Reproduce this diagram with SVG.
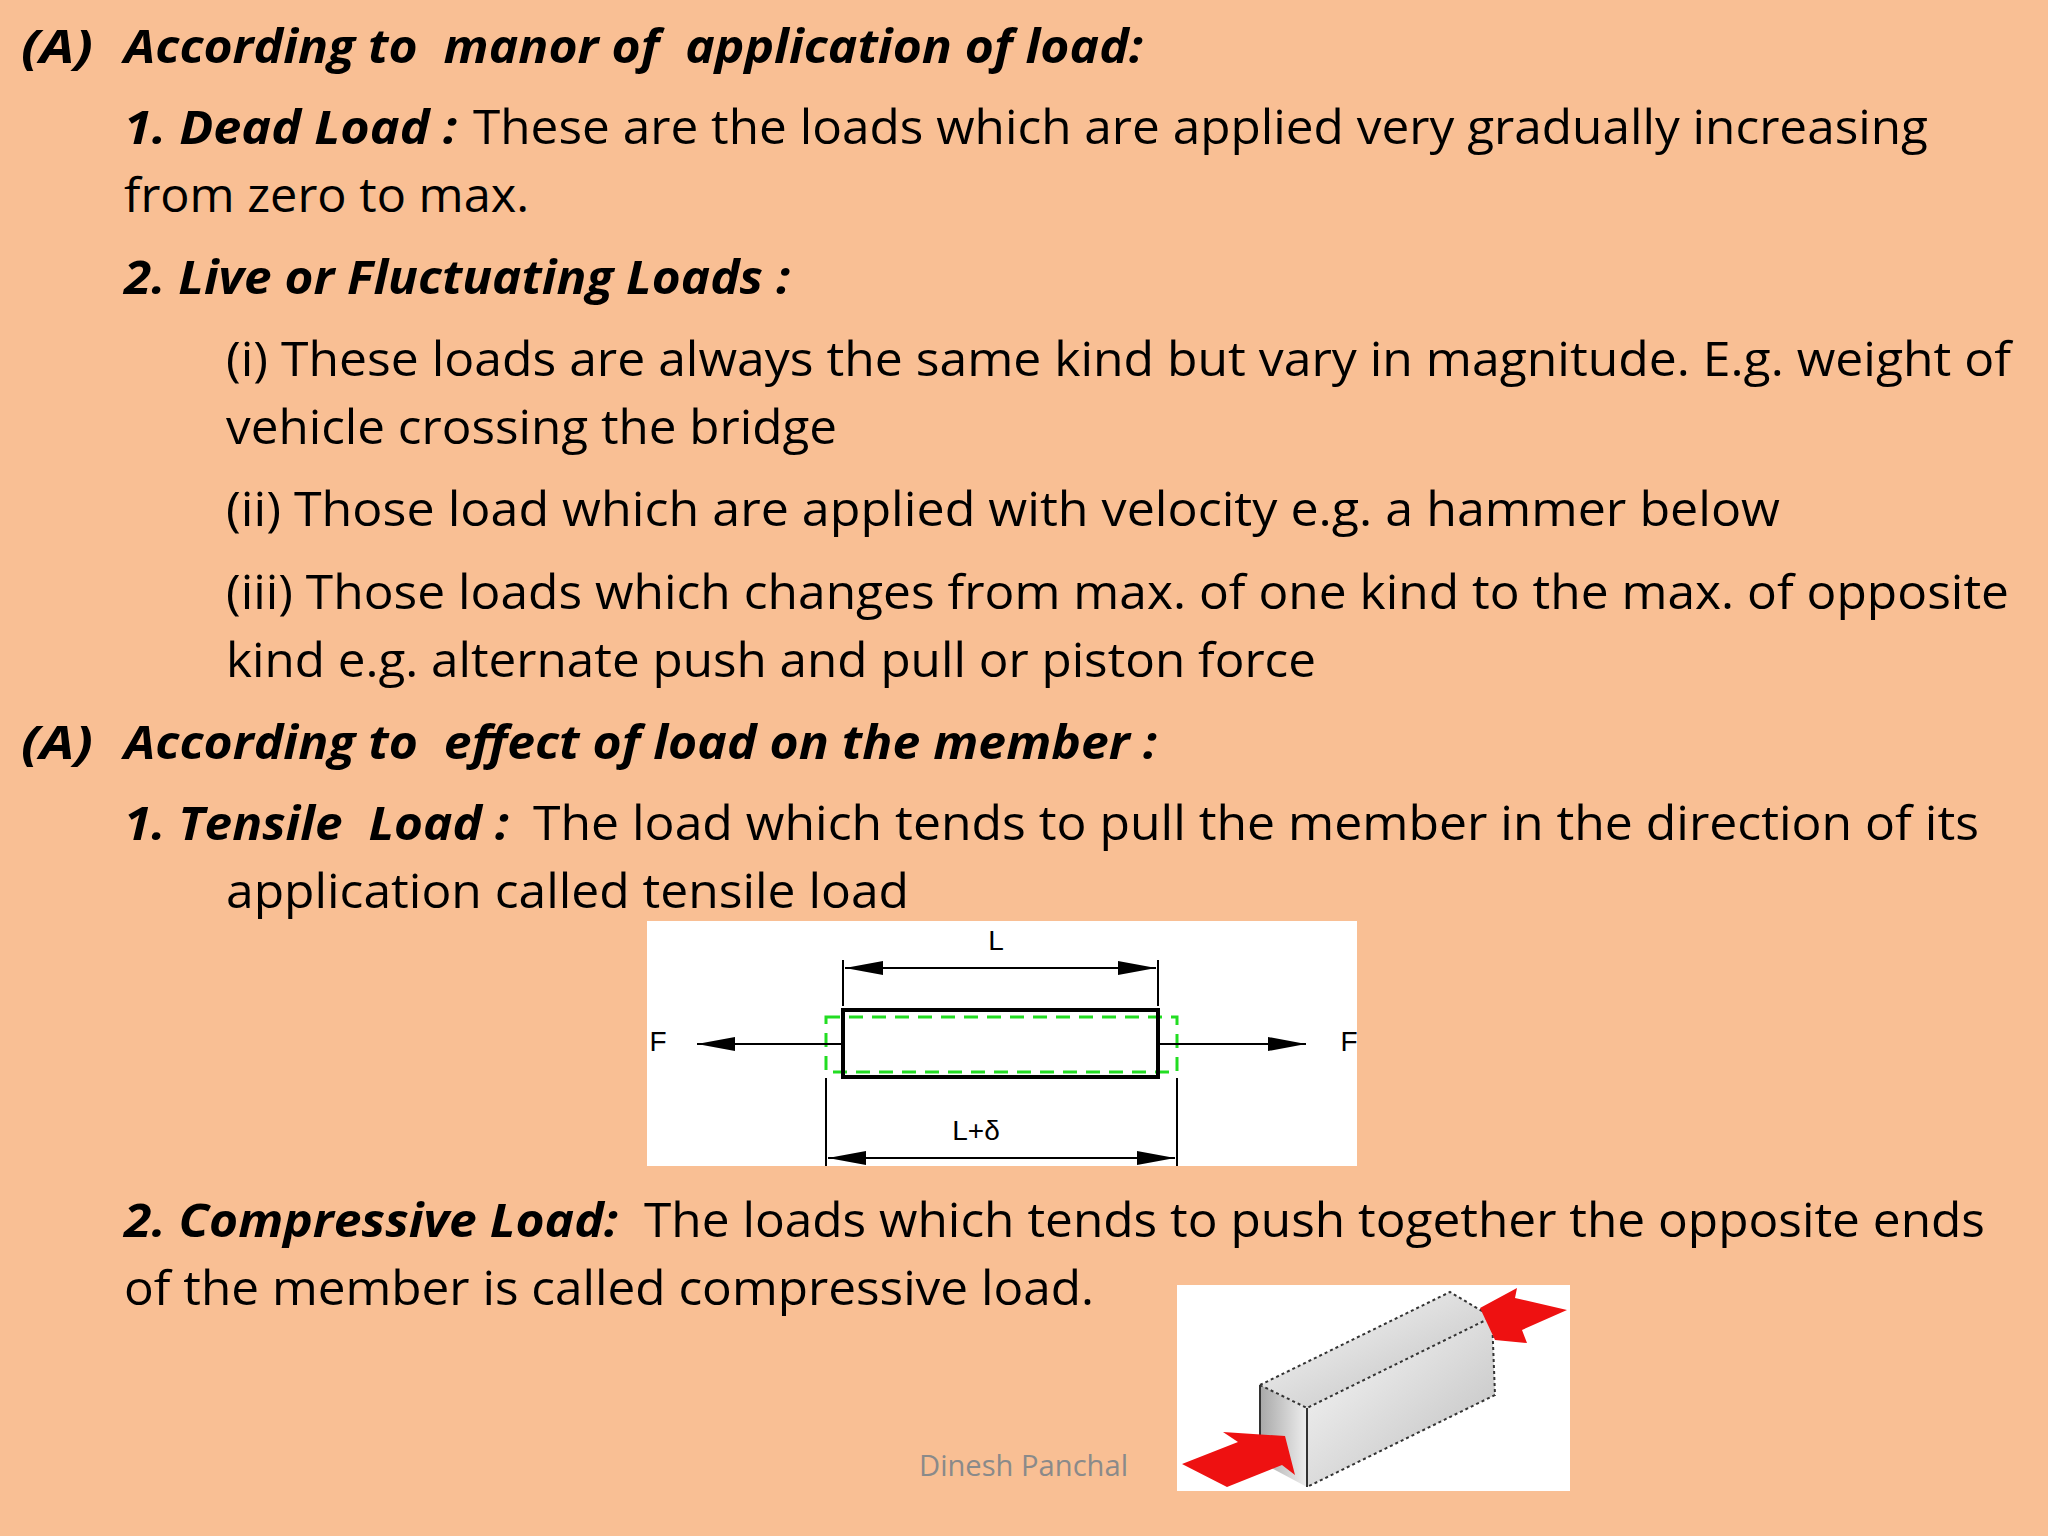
<svg xmlns="http://www.w3.org/2000/svg" width="2048" height="1536" viewBox="0 0 2048 1536">
<style>
text{font-family:"Open Sans","Noto Sans",sans-serif;font-size:47px;fill:#000}
.h{font-weight:bold;font-style:italic}
.s{font-family:"Liberation Sans",Arial,sans-serif;font-size:28px}
.ln{stroke:#000;stroke-width:2;fill:none}
.ed{stroke:#333;stroke-width:2;stroke-dasharray:3 3;fill:none}
</style>
<defs>
<marker id="ah2" viewBox="0 0 38 16" refX="38" refY="8" markerWidth="38" markerHeight="16" markerUnits="userSpaceOnUse" orient="auto-start-reverse"><path d="M0,1 L38,8 L0,15 Z" fill="#000"/></marker>
<linearGradient id="g1" x1="0" y1="0" x2="1" y2="1"><stop offset="0" stop-color="#fafafa"/><stop offset="1" stop-color="#bdbdbd"/></linearGradient>
<linearGradient id="g2" x1="0" y1="0" x2="1" y2="0"><stop offset="0" stop-color="#a8a8a8"/><stop offset="1" stop-color="#eeeeee"/></linearGradient>
</defs>
<rect width="2048" height="1536" fill="#F9BF94"/>

<g id="text">
<text class="h" x="21" y="63" textLength="72" lengthAdjust="spacingAndGlyphs">(A)</text>
<text class="h" x="124" y="63" textLength="1019" lengthAdjust="spacingAndGlyphs" xml:space="preserve">According to  manor of  application of load:</text>
<text class="h" x="124" y="144" textLength="333" lengthAdjust="spacingAndGlyphs">1. Dead Load :</text>
<text x="473" y="144" textLength="1455" lengthAdjust="spacingAndGlyphs">These are the loads which are applied very gradually increasing</text>
<text x="124" y="212" textLength="405" lengthAdjust="spacingAndGlyphs">from zero to max.</text>
<text class="h" x="124" y="294" textLength="666" lengthAdjust="spacingAndGlyphs">2. Live or Fluctuating Loads :</text>
<text x="226" y="376" textLength="1785" lengthAdjust="spacingAndGlyphs">(i) These loads are always the same kind but vary in magnitude. E.g. weight of</text>
<text x="226" y="444" textLength="611" lengthAdjust="spacingAndGlyphs">vehicle crossing the bridge</text>
<text x="226" y="526" textLength="1554" lengthAdjust="spacingAndGlyphs">(ii) Those load which are applied with velocity e.g. a hammer below</text>
<text x="226" y="609" textLength="1783" lengthAdjust="spacingAndGlyphs">(iii) Those loads which changes from max. of one kind to the max. of opposite</text>
<text x="226" y="677" textLength="1090" lengthAdjust="spacingAndGlyphs">kind e.g. alternate push and pull or piston force</text>
<text class="h" x="21" y="759" textLength="72" lengthAdjust="spacingAndGlyphs">(A)</text>
<text class="h" x="124" y="759" textLength="1033" lengthAdjust="spacingAndGlyphs" xml:space="preserve">According to  effect of load on the member :</text>
<text class="h" x="124" y="840" textLength="385" lengthAdjust="spacingAndGlyphs" xml:space="preserve">1. Tensile  Load :</text>
<text x="533" y="840" textLength="1446" lengthAdjust="spacingAndGlyphs">The load which tends to pull the member in the direction of its</text>
<text x="226" y="908" textLength="683" lengthAdjust="spacingAndGlyphs">application called tensile load</text>
<text class="h" x="124" y="1237" textLength="494" lengthAdjust="spacingAndGlyphs">2. Compressive Load:</text>
<text x="644" y="1237" textLength="1341" lengthAdjust="spacingAndGlyphs">The loads which tends to push together the opposite ends</text>
<text x="124" y="1305" textLength="970" lengthAdjust="spacingAndGlyphs">of the member is called compressive load.</text>
<text x="919" y="1476" style="font-size:30px;fill:#8a8a8a" textLength="209" lengthAdjust="spacingAndGlyphs">Dinesh Panchal</text>
</g>

<g id="tensile">
<rect x="647" y="921" width="710" height="245" fill="#fff"/>
<rect x="826" y="1017" width="351" height="55" fill="none" stroke="#22dd22" stroke-width="3" stroke-dasharray="14 9"/>
<rect x="843" y="1010" width="315" height="67" fill="none" stroke="#000" stroke-width="4"/>
<line class="ln" x1="843" y1="960" x2="843" y2="1006"/>
<line class="ln" x1="1158" y1="960" x2="1158" y2="1006"/>
<line class="ln" x1="845" y1="968" x2="1156" y2="968" marker-start="url(#ah2)" marker-end="url(#ah2)"/>
<line class="ln" x1="826" y1="1078" x2="826" y2="1166"/>
<line class="ln" x1="1177" y1="1078" x2="1177" y2="1166"/>
<line class="ln" x1="828" y1="1158" x2="1175" y2="1158" marker-start="url(#ah2)" marker-end="url(#ah2)"/>
<line class="ln" x1="843" y1="1044" x2="697" y2="1044" marker-end="url(#ah2)"/>
<line class="ln" x1="1158" y1="1044" x2="1306" y2="1044" marker-end="url(#ah2)"/>
<text class="s" x="996" y="950" text-anchor="middle">L</text>
<text class="s" x="658" y="1051" text-anchor="middle">F</text>
<text class="s" x="1349" y="1051" text-anchor="middle">F</text>
<text class="s" x="976" y="1140" text-anchor="middle">L+δ</text>
</g>

<g id="compressive">
<rect x="1177" y="1285" width="393" height="206" fill="#fff"/>
<polygon points="1260,1385 1450,1292 1492,1317 1307,1408" fill="url(#g1)"/>
<polygon points="1307,1408 1492,1317 1495,1395 1307,1487" fill="url(#g1)"/>
<polygon points="1260,1385 1307,1408 1307,1487 1260,1462" fill="url(#g2)"/>
<polyline class="ed" points="1260,1385 1450,1292 1492,1317 1307,1408 1260,1385"/>
<polyline class="ed" points="1492,1317 1495,1395 1307,1487"/>
<line x1="1307" y1="1408" x2="1307" y2="1487" stroke="#333" stroke-width="2"/>
<line x1="1260" y1="1385" x2="1260" y2="1462" stroke="#333" stroke-width="2"/>
<polygon points="1182,1464 1238,1442 1223,1432 1285,1436 1295,1475 1282,1465 1227,1487" fill="#ee1111"/>
<polygon points="1480,1308 1517,1288 1515,1298 1567,1310 1522,1330 1527,1343 1495,1340" fill="#ee1111"/>
</g>
</svg>
